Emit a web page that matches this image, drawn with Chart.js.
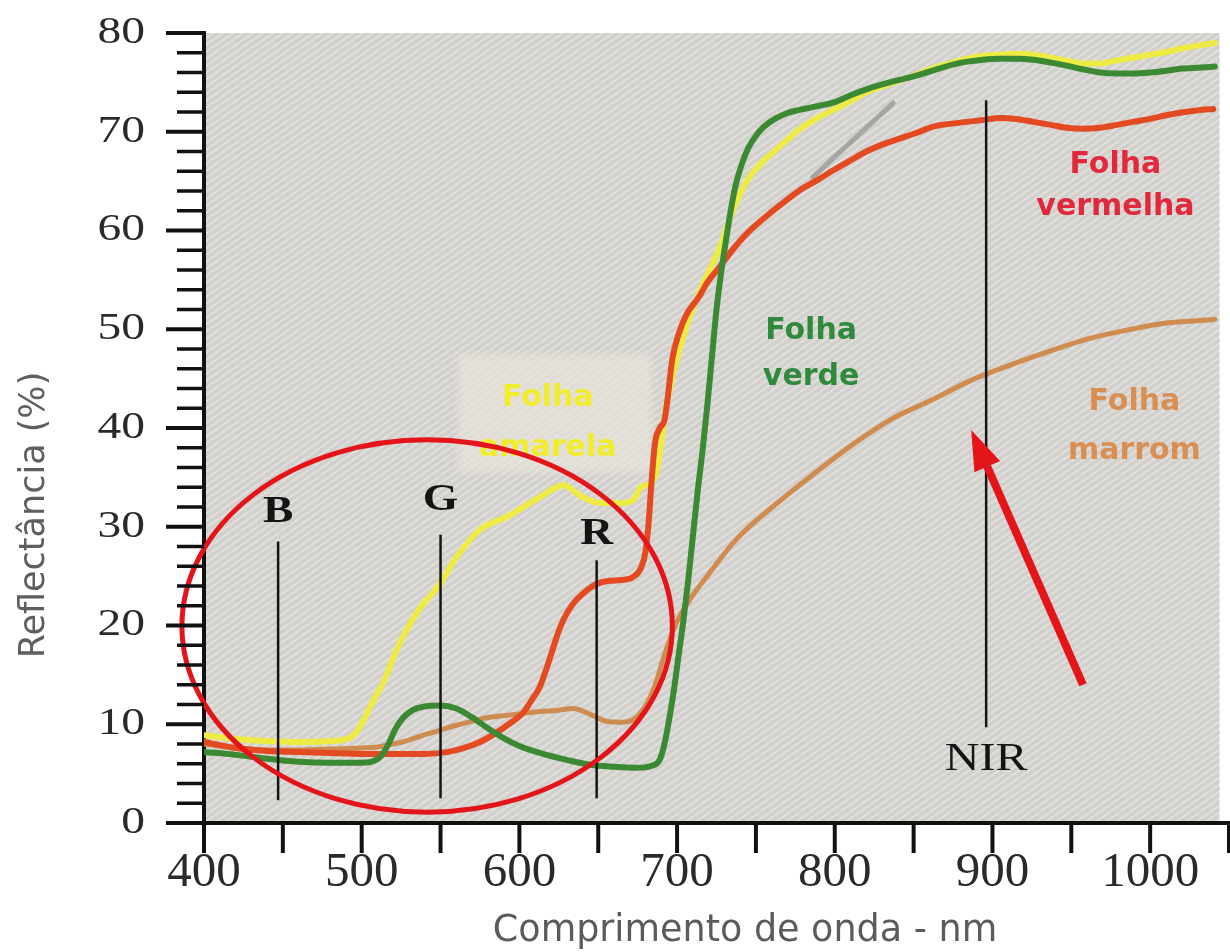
<!DOCTYPE html>
<html lang="pt">
<head>
<meta charset="utf-8">
<title>Reflectância espectral de folhas</title>
<script src="https://cdn.jsdelivr.net/npm/chart.js@4.4.1/dist/chart.umd.min.js"></script>
<style>
  html, body { margin: 0; padding: 0; background: #ffffff; }
  #wrap { width: 1230px; height: 952px; position: relative; }
  canvas { display: block; }
</style>
</head>
<body>
<div id="wrap"><canvas id="chart" width="1230" height="952"></canvas></div>
<script>
// ---- Spectral reflectance of leaves (wavelength in nm, reflectance in %) ----
const verdeNm = [400, 420, 440, 460, 480, 500, 508, 513, 517, 521,
  526, 532, 540, 550, 560, 570, 580, 590, 600, 615,
  630, 645, 660, 675, 684, 689, 692, 695, 698, 701,
  704, 707, 710, 713, 716, 719, 722, 725, 728, 731,
  734, 737, 741, 745, 750, 755, 762, 770, 786, 800,
  810, 820, 837, 850, 862, 875, 884, 894, 905, 915,
  926, 937, 947, 958, 968, 980, 989, 1000, 1011, 1020,
  1032, 1041];
const verdePct = [7.2, 6.9, 6.5, 6.2, 6.1, 6.1, 6.3, 6.9, 8.0, 9.4,
  10.6, 11.4, 11.8, 11.9, 11.6, 10.7, 9.6, 8.6, 7.8, 7.0,
  6.4, 5.9, 5.7, 5.6, 5.8, 6.4, 8.0, 10.5, 13.5, 17.0,
  20.5, 24.5, 29.0, 33.5, 37.5, 42.0, 47.0, 52.0, 55.8, 59.0,
  62.0, 64.5, 66.7, 68.3, 69.6, 70.5, 71.3, 71.9, 72.5, 73.0,
  73.7, 74.3, 75.1, 75.6, 76.2, 76.8, 77.1, 77.3, 77.4, 77.4,
  77.3, 77.0, 76.7, 76.3, 76.0, 75.9, 75.9, 76.0, 76.2, 76.4,
  76.5, 76.6];

const amarelaNm = [400, 420, 440, 460, 480, 492, 498, 503, 508, 514,
  522, 535, 550, 560, 575, 592, 613, 628, 638, 648,
  656, 664, 672, 677, 683, 687, 690, 693, 696, 700,
  705, 711, 717, 723, 728, 733, 738, 745, 752, 760,
  770, 778, 788, 799, 810, 820, 830, 841, 852, 862,
  875, 884, 894, 905, 915, 926, 937, 947, 958, 968,
  978, 989, 1000, 1011, 1022, 1041];
const amarelaPct = [8.9, 8.5, 8.3, 8.2, 8.3, 8.6, 9.5, 11.0, 12.6, 14.3,
  17.5, 21.3, 24.3, 26.9, 29.7, 31.0, 33.0, 34.2, 33.2, 32.5,
  32.4, 32.4, 32.7, 34.0, 34.4, 35.5, 38.5, 42.0, 44.5, 47.0,
  49.8, 52.5, 54.8, 56.8, 58.7, 61.0, 63.0, 65.2, 66.6, 67.8,
  69.2, 70.3, 71.3, 72.2, 73.1, 74.0, 74.6, 75.2, 75.8, 76.4,
  77.0, 77.4, 77.7, 77.8, 77.9, 77.8, 77.5, 77.2, 76.9, 76.9,
  77.2, 77.5, 77.8, 78.1, 78.5, 79.0];

const vermelhaNm = [400, 420, 440, 460, 480, 500, 520, 540, 555, 565,
  575, 585, 595, 602, 608, 613, 619, 624, 628, 634,
  640, 649, 656, 665, 672, 677, 680, 682, 684, 686,
  689, 692, 694, 697, 701, 706, 714, 719, 727, 735,
  745, 757, 768, 778, 790, 799, 810, 820, 830, 841,
  852, 862, 873, 884, 894, 905, 915, 926, 937, 947,
  958, 968, 979, 989, 1000, 1011, 1022, 1032, 1040];
const vermelhaPct = [8.2, 7.6, 7.3, 7.2, 7.1, 7.0, 7.0, 7.0, 7.2, 7.6,
  8.2, 9.1, 10.2, 11.1, 12.5, 13.8, 16.5, 19.0, 20.6, 22.2,
  23.2, 24.2, 24.5, 24.6, 24.9, 25.8, 27.5, 30.5, 35.0, 38.5,
  40.0, 40.8, 43.0, 47.0, 49.5, 51.5, 53.3, 54.7, 56.3, 58.0,
  59.8, 61.5, 62.9, 64.1, 65.2, 66.1, 67.1, 68.0, 68.7, 69.3,
  69.9, 70.5, 70.8, 71.0, 71.2, 71.4, 71.3, 71.0, 70.7, 70.4,
  70.3, 70.4, 70.7, 71.0, 71.3, 71.7, 72.0, 72.2, 72.3];

const marromNm = [400, 420, 440, 460, 480, 500, 510, 520, 530, 539,
  550, 560, 570, 581, 592, 602, 613, 624, 634, 645,
  655, 666, 676, 685, 693, 700, 708, 720, 738, 762,
  787, 812, 836, 861, 886, 910, 935, 960, 985, 1009,
  1034, 1041];
const marromPct = [8.0, 7.6, 7.4, 7.4, 7.5, 7.6, 7.7, 8.0, 8.4, 8.9,
  9.4, 9.9, 10.3, 10.7, 10.9, 11.1, 11.3, 11.4, 11.6, 11.0,
  10.3, 10.2, 11.0, 13.5, 17.5, 20.4, 22.6, 25.2, 28.8, 32.2,
  35.4, 38.4, 40.9, 42.8, 44.8, 46.3, 47.7, 49.0, 49.9, 50.6,
  50.9, 51.0];

// axis tick labels
const xTickLabels = [400, 500, 600, 700, 800, 900, 1000];
const yTickLabels = [0, 10, 20, 30, 40, 50, 60, 70, 80];

// spectral bands marked on the chart
const bandNames = ['B', 'G', 'R', 'NIR'];
const bandNm = [447, 550, 649, 896];

const xTitle = 'Comprimento de onda - nm';
const yTitle = 'Reflectância (%)';

// ---- helpers ----
const toPoints = (xs, ys) => xs.map((v, i) => ({ x: v, y: ys[i] }));

function hatchPattern(ctx) {
  const tile = document.createElement('canvas');
  tile.width = 10; tile.height = 7;
  const g = tile.getContext('2d');
  g.fillStyle = '#d2d0cc';
  g.fillRect(0, 0, 10, 7);
  g.strokeStyle = '#e2e0dc';
  g.lineWidth = 2;
  for (const dx of [-10, 0, 10]) {
    g.beginPath(); g.moveTo(dx, 7); g.lineTo(dx + 10, 0); g.stroke();
  }
  return ctx.createPattern(tile, 'repeat');
}

function text(ctx, str, x, y, font, color, opts = {}) {
  ctx.save();
  ctx.font = font;
  ctx.fillStyle = color;
  ctx.textAlign = opts.align || 'center';
  ctx.textBaseline = 'middle';
  ctx.translate(x, y);
  if (opts.rotate) ctx.rotate(opts.rotate);
  ctx.scale(opts.sx || 1, 1);
  ctx.fillText(str, 0, 0);
  ctx.restore();
}

// ---- annotations drawn around the curves ----
const leafLabels = [
  { lines: ['Folha', 'vermelha'], nm: 978, pct: [66.6, 62.4], color: '#e0293d' },
  { lines: ['Folha', 'verde'], nm: 785, pct: [49.8, 45.1], color: '#2f8a3c' },
  { lines: ['Folha', 'marrom'], nm: 990, pct: [42.6, 37.7], color: '#d98f52' }
];
const amarelaLabel = { lines: ['Folha', 'amarela'], nm: 618, pct: [43.0, 38.0], color: '#f1ed2c' };

const decor = {
  id: 'decor',
  beforeDraw(chart) {
    const { ctx, chartArea: a, scales: { x } } = chart;
    ctx.save();
    ctx.fillStyle = hatchPattern(ctx);
    const right = x.getPixelForValue(1044);
    ctx.fillRect(a.left, a.top, right - a.left, a.bottom - a.top);
    ctx.restore();
  },
  beforeDatasetsDraw(chart) {
    const { ctx, scales: { x, y } } = chart;
    // pale panel behind the "Folha amarela" label
    ctx.save();
    const bx0 = x.getPixelForValue(561), bx1 = x.getPixelForValue(684);
    const by0 = y.getPixelForValue(47.5), by1 = y.getPixelForValue(35.5);
    ctx.fillStyle = 'rgba(232,228,220,0.7)';
    ctx.filter = 'blur(3px)';
    ctx.fillRect(bx0, by0, bx1 - bx0, by1 - by0);
    ctx.restore();
    amarelaLabel.lines.forEach((s, i) =>
      text(ctx, s, x.getPixelForValue(amarelaLabel.nm), y.getPixelForValue(amarelaLabel.pct[i]),
        'bold 30px "DejaVu Sans"', amarelaLabel.color));
    // faint grey stroke near the NIR plateau
    ctx.save();
    ctx.strokeStyle = 'rgba(150,150,150,0.75)';
    ctx.lineWidth = 5;
    ctx.lineCap = 'round';
    ctx.beginPath();
    ctx.moveTo(x.getPixelForValue(786), y.getPixelForValue(65.4));
    ctx.lineTo(x.getPixelForValue(837), y.getPixelForValue(72.9));
    ctx.stroke();
    ctx.restore();
  },
  afterDatasetsDraw(chart) {
    const { ctx, scales: { x, y } } = chart;
    // band markers
    const bandSpan = [[2.3, 28.5], [2.5, 29.2], [2.5, 26.6], [9.7, 73.2]];
    const bandLabelAt = [31.5, 32.7, 29.2, 6.4];
    ctx.save();
    ctx.strokeStyle = '#151515';
    ctx.lineWidth = 2.5;
    bandNm.forEach((nm, i) => {
      const px = x.getPixelForValue(nm);
      ctx.beginPath();
      ctx.moveTo(px, y.getPixelForValue(bandSpan[i][0]));
      ctx.lineTo(px, y.getPixelForValue(bandSpan[i][1]));
      ctx.stroke();
    });
    ctx.restore();
    bandNames.forEach((name, i) => {
      const font = name === 'NIR' ? '40px "Liberation Serif"' : 'bold 38px "Liberation Serif"';
      text(ctx, name, x.getPixelForValue(bandNm[i]), y.getPixelForValue(bandLabelAt[i]), font, '#141414', { sx: 1.2 });
    });

    // ellipse around the visible region
    ctx.save();
    const ex0 = x.getPixelForValue(386), ex1 = x.getPixelForValue(697);
    const ey0 = y.getPixelForValue(38.8), ey1 = y.getPixelForValue(1.1);
    ctx.strokeStyle = '#e3151b';
    ctx.lineWidth = 5;
    ctx.beginPath();
    ctx.ellipse((ex0 + ex1) / 2, (ey0 + ey1) / 2, (ex1 - ex0) / 2, (ey1 - ey0) / 2, 0, 0, Math.PI * 2);
    ctx.stroke();
    ctx.restore();

    // arrow pointing at the NIR plateau
    ctx.save();
    const tx = x.getPixelForValue(957.4), ty = y.getPixelForValue(14.0);
    const hx = x.getPixelForValue(886.5), hy = y.getPixelForValue(39.8);
    const ang = Math.atan2(hy - ty, hx - tx);
    const headLen = 40, headHalf = 14;
    const bx = hx - headLen * Math.cos(ang), by = hy - headLen * Math.sin(ang);
    ctx.strokeStyle = '#e3151b';
    ctx.fillStyle = '#e3151b';
    ctx.lineWidth = 8;
    ctx.beginPath(); ctx.moveTo(tx, ty); ctx.lineTo(bx, by); ctx.stroke();
    ctx.beginPath();
    ctx.moveTo(hx, hy);
    ctx.lineTo(bx + headHalf * Math.sin(ang), by - headHalf * Math.cos(ang));
    ctx.lineTo(bx - headHalf * Math.sin(ang), by + headHalf * Math.cos(ang));
    ctx.closePath();
    ctx.fill();
    ctx.restore();

    // curve names
    leafLabels.forEach(l => l.lines.forEach((s, i) =>
      text(ctx, s, x.getPixelForValue(l.nm), y.getPixelForValue(l.pct[i]), 'bold 30px "DejaVu Sans"', l.color)));
  },
  afterDraw(chart) {
    const { ctx, chartArea: a, scales: { x, y } } = chart;
    ctx.save();
    ctx.strokeStyle = '#111111';
    // x ticks every 50 nm
    ctx.lineWidth = 4;
    for (let v = x.min; v <= x.max; v += 50) {
      const px = x.getPixelForValue(v);
      ctx.beginPath(); ctx.moveTo(px, a.bottom); ctx.lineTo(px, a.bottom + 30); ctx.stroke();
    }
    // y ticks: major every 10, minor every 2
    for (let v = y.min; v <= y.max; v += 2) {
      const py = y.getPixelForValue(v);
      const major = v % 10 === 0;
      ctx.lineWidth = major ? 4 : 3.5;
      ctx.beginPath(); ctx.moveTo(a.left - (major ? 38 : 27), py); ctx.lineTo(a.left, py); ctx.stroke();
    }
    ctx.restore();

    xTickLabels.forEach(v =>
      text(ctx, String(v), x.getPixelForValue(v), 873, '49px "Liberation Serif"', '#2a2a2a'));
    yTickLabels.forEach(v =>
      text(ctx, String(v), 145, y.getPixelForValue(v), '38px "Liberation Serif"', '#2a2a2a', { align: 'right', sx: 1.25 }));

    text(ctx, xTitle, 745, 932, '36.5px "DejaVu Sans"', '#5b5b5b');
    text(ctx, yTitle, 35, 515, '35px "DejaVu Sans"', '#5f5f5f', { rotate: -Math.PI / 2 });
  }
};

const lineStyle = {
  pointRadius: 0,
  pointHoverRadius: 0,
  fill: false,
  cubicInterpolationMode: 'monotone',
  borderCapStyle: 'round',
  borderJoinStyle: 'round'
};

new Chart(document.getElementById('chart'), {
  type: 'line',
  data: {
    datasets: [
      { label: 'Folha verde', data: toPoints(verdeNm, verdePct), borderColor: '#3b8a33', borderWidth: 6, ...lineStyle },
      { label: 'Folha vermelha', data: toPoints(vermelhaNm, vermelhaPct), borderColor: '#e34a22', borderWidth: 6, ...lineStyle },
      { label: 'Folha amarela', data: toPoints(amarelaNm, amarelaPct), borderColor: '#eeeb45', borderWidth: 6, ...lineStyle },
      { label: 'Folha marrom', data: toPoints(marromNm, marromPct), borderColor: '#cf8c50', borderWidth: 5, ...lineStyle }
    ]
  },
  options: {
    responsive: false,
    animation: false,
    devicePixelRatio: 1,
    layout: { padding: { left: 0, right: 1, top: 33, bottom: 0 } },
    plugins: { legend: { display: false }, tooltip: { enabled: false } },
    scales: {
      x: {
        type: 'linear', min: 400, max: 1050,
        ticks: { display: false, stepSize: 50 },
        grid: { display: false },
        border: { display: true, width: 4, color: '#111111' },
        afterFit(s) { s.height = 129; }
      },
      y: {
        type: 'linear', min: 0, max: 80,
        ticks: { display: false, stepSize: 10 },
        grid: { display: false },
        border: { display: true, width: 4, color: '#111111' },
        afterFit(s) { s.width = 204; }
      }
    }
  },
  plugins: [decor]
});
</script>
</body>
</html>
